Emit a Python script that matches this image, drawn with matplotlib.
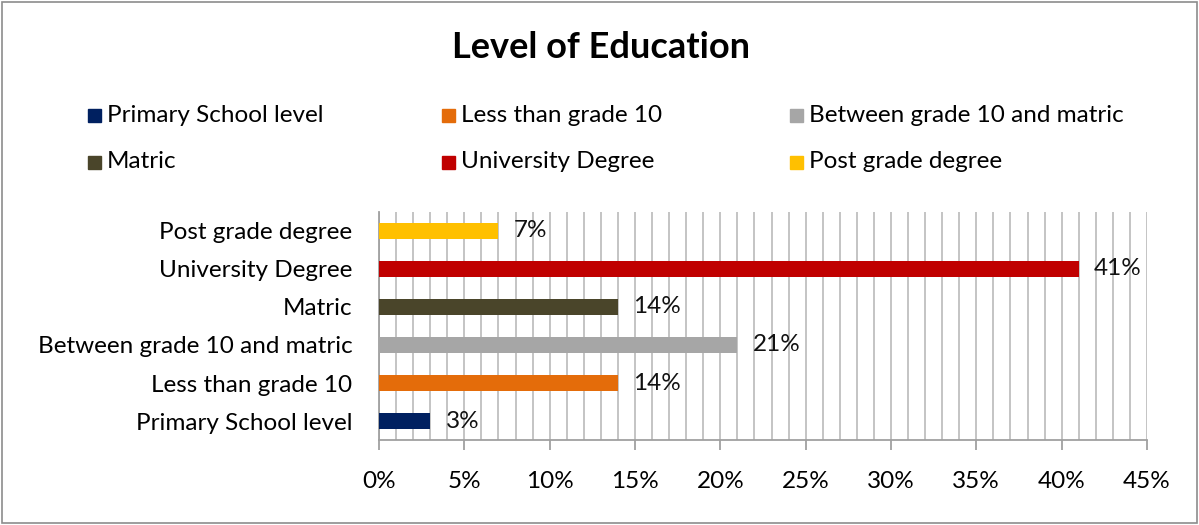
import matplotlib.pyplot as plt
from matplotlib.patches import Rectangle
from matplotlib.ticker import MultipleLocator, PercentFormatter

categories = ["Primary School level", "Less than grade 10", "Between grade 10 and matric",
              "Matric", "University Degree", "Post grade degree"]
values = [3, 14, 21, 14, 41, 7]
colors = ["#002060", "#E46C0A", "#A6A6A6", "#4A452A", "#C00000", "#FFC000"]

plt.rcParams['font.family'] = ['Lato', 'DejaVu Sans']

fig = plt.figure(figsize=(11.99, 5.25), dpi=100)
ax = fig.add_axes([0.3161, 0.1619, 0.6405, 0.4343])

ypos = range(len(categories))
ax.barh(ypos, values, height=0.42, color=colors, zorder=3)
for y, v in zip(ypos, values):
    ax.annotate(f"{v}%", (v, y), xytext=(11, 0), textcoords="offset points",
                va="center", ha="left", fontsize=17.5, color="#111111")

ax.set_xlim(0, 45)
ax.set_ylim(-0.5, len(categories) - 0.5)
ax.set_yticks(list(ypos))
ax.set_yticklabels(categories, fontsize=17.5)
ax.xaxis.set_major_locator(MultipleLocator(5))
ax.xaxis.set_minor_locator(MultipleLocator(1))
ax.xaxis.set_major_formatter(PercentFormatter(decimals=0))
ax.grid(axis="x", which="both", color="#BFBFBF", linewidth=1.3, zorder=0)
ax.tick_params(axis="x", which="major", length=7, width=1.3, color="#A0A0A0",
               labelsize=17.5, pad=15)
ax.tick_params(axis="x", which="minor", length=0)
ax.tick_params(axis="y", length=0, pad=19)
for side in ["top", "right"]:
    ax.spines[side].set_visible(False)
for side in ["left", "bottom"]:
    ax.spines[side].set_color("#A0A0A0")
    ax.spines[side].set_linewidth(1.3)

fig.text(0.5013, 1 - 48 / 525, "Level of Education", ha="center", va="center",
         fontsize=26, fontweight="bold")

# legend, 3 columns x 2 rows
col_x = [88, 442, 790]
row_y = [115, 162]
for i, (cat, col) in enumerate(zip(categories, colors)):
    cx = col_x[i % 3]
    cy = row_y[i // 3]
    fig.patches.append(Rectangle((cx / 1199, 1 - (cy + 7) / 525), 13 / 1199, 13 / 525,
                                 transform=fig.transFigure, color=col))
    fig.text((cx + 19) / 1199, 1 - cy / 525, cat, ha="left", va="center", fontsize=17.5)

fig.patches.append(Rectangle((2 / 1199, 2 / 525), 1195 / 1199, 521 / 525,
                             transform=fig.transFigure, fill=False,
                             edgecolor="#8C8C8C", linewidth=1.2))

fig.savefig("out.png", dpi=100)
